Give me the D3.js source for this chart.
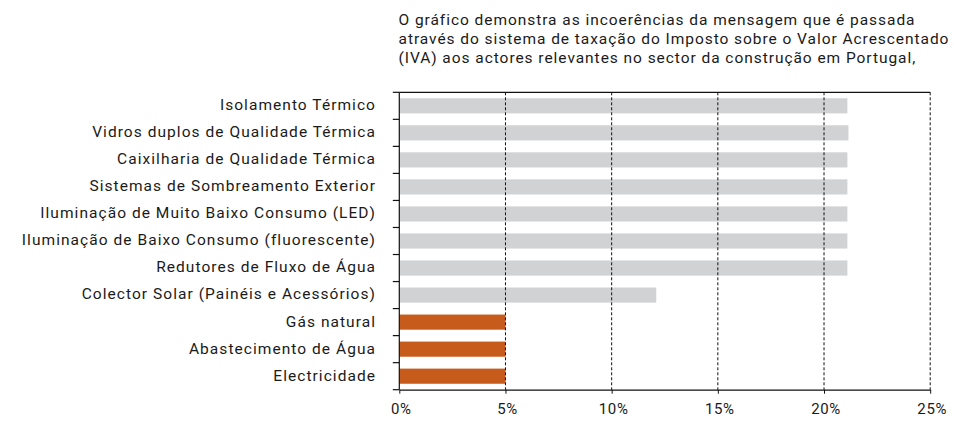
<!DOCTYPE html>
<html>
<head>
<meta charset="utf-8">
<script src="https://cdn.jsdelivr.net/npm/d3@7"></script>
<style>
  html, body { margin: 0; padding: 0; background: #fff; }
  svg { display: block; }
  text { font-family: Roboto, "Noto Sans", sans-serif; fill: #1a1a1a; }
</style>
</head>
<body>
<svg id="chart" width="954" height="427"></svg>
<script>
const categories = [
  "Isolamento Térmico",
  "Vidros duplos de Qualidade Térmica",
  "Caixilharia de Qualidade Térmica",
  "Sistemas de Sombreamento Exterior",
  "Iluminação de Muito Baixo Consumo (LED)",
  "Iluminação de Baixo Consumo (fluorescente)",
  "Redutores de Fluxo de Água",
  "Colector Solar (Painéis e Acessórios)",
  "Gás natural",
  "Abastecimento de Água",
  "Electricidade"
];
const values = [21.1, 21.15, 21.1, 21.1, 21.1, 21.1, 21.1, 12.1, 5, 5, 5];
const groups = ["eficiencia", "eficiencia", "eficiencia", "eficiencia", "eficiencia", "eficiencia", "eficiencia", "eficiencia", "consumo", "consumo", "consumo"];
const xTicks = [0, 5, 10, 15, 20, 25];
const titleLines = [
  "O gráfico demonstra as incoerências da mensagem que é passada",
  "através do sistema de taxação do Imposto sobre o Valor Acrescentado",
  "(IVA) aos actores relevantes no sector da construção em Portugal,"
];

const colors = { eficiencia: "#d1d2d4", consumo: "#c75b1c" };
const svg = d3.select("#chart");
const margin = { left: 399.3, right: 954 - 930.2, top: 92.3, bottom: 427 - 389.7 };
const W = 954, H = 427;

const x = d3.scaleLinear().domain([0, 25]).range([margin.left, W - margin.right]);
const y = d3.scaleBand().domain(categories).range([margin.top, H - margin.bottom]).paddingInner(0.44).paddingOuter(0.22);

// title
const title = svg.append("text").style("font-size", "15.5px").style("letter-spacing", "0.95px");
titleLines.forEach((l, i) => title.append("tspan").attr("x", 398.5).attr("y", 25.3 + i * 19).text(l));

// bars
svg.append("g").selectAll("rect").data(categories).join("rect")
  .attr("x", x(0))
  .attr("y", d => y(d))
  .attr("width", (d, i) => x(values[i]) - x(0))
  .attr("height", y.bandwidth())
  .attr("fill", (d, i) => colors[groups[i]]);

// gridlines
svg.append("g").selectAll("line").data(xTicks.filter(t => t > 0)).join("line")
  .attr("x1", d => x(d)).attr("x2", d => x(d))
  .attr("y1", margin.top).attr("y2", H - margin.bottom)
  .attr("stroke", "#111").attr("stroke-width", 1).attr("stroke-dasharray", "3,2");

// top line
svg.append("line").attr("x1", x(0)).attr("x2", x(25)).attr("y1", margin.top).attr("y2", margin.top)
  .attr("stroke", "#111").attr("stroke-width", 1.2);

// x axis
const xAxis = svg.append("g").attr("transform", `translate(0,${H - margin.bottom})`)
  .attr("font-size", 15)
  .call(d3.axisBottom(x).tickValues(xTicks).tickFormat(d => d + "%").tickSize(4).tickSizeOuter(0));
xAxis.attr("font-size", 15).attr("font-family", "Roboto, sans-serif");
xAxis.select(".domain").attr("stroke", "#111").attr("stroke-width", 1.2);
xAxis.selectAll(".tick line").attr("stroke", "#111");
xAxis.selectAll(".tick text")
  .style("font-size", "15px").style("letter-spacing", "0.6px")
  .attr("fill", "#1a1a1a").attr("y", 0).attr("dy", 0)
  .attr("transform", "translate(1.5,24)");

// y axis: ticks at band boundaries
const bounds = categories.map(c => y(c) - y.step() * y.paddingInner() / 2).concat([H - margin.bottom]);
svg.append("g").selectAll("line").data(bounds).join("line")
  .attr("x1", x(0) - 6.5).attr("x2", x(0))
  .attr("y1", d => d).attr("y2", d => d)
  .attr("stroke", "#111").attr("stroke-width", 1.2);
svg.append("line").attr("x1", x(0)).attr("x2", x(0)).attr("y1", margin.top).attr("y2", H - margin.bottom)
  .attr("stroke", "#111").attr("stroke-width", 1.2);

// y labels
svg.append("g").selectAll("text").data(categories).join("text")
  .attr("x", 376)
  .attr("y", d => y(d) + y.bandwidth() / 2 + 4.4)
  .attr("text-anchor", "end")
  .style("font-size", "15.5px")
  .style("letter-spacing", "1.05px")
  .text(d => d);
</script>
</body>
</html>
